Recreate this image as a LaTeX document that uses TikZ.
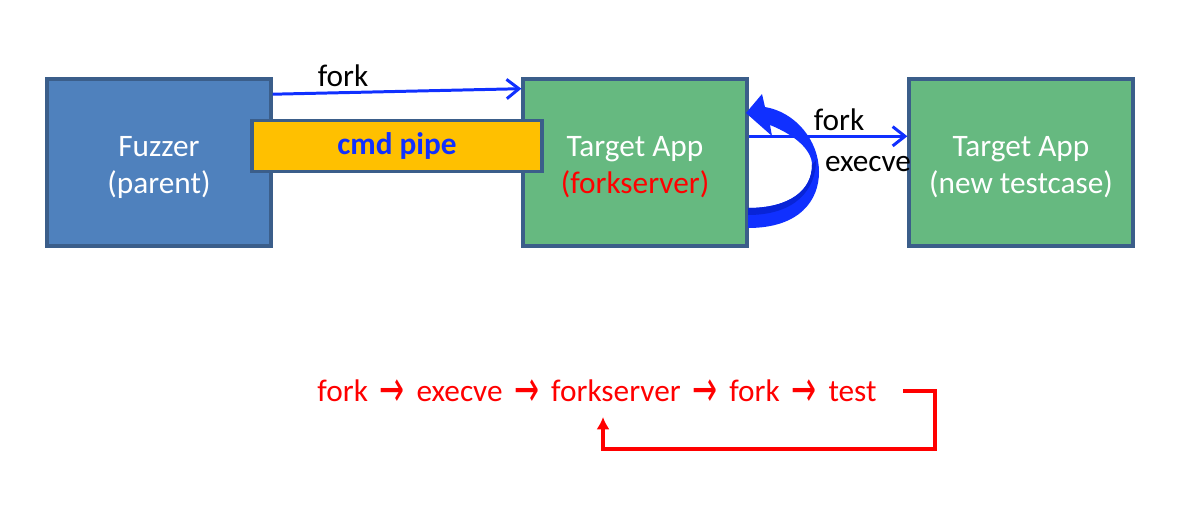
\documentclass[tikz,border=0pt]{standalone}
\usepackage{fontspec}
\usepackage{graphicx}
\setmainfont{Carlito}
\newfontfamily\arrowfont{DejaVu Sans}
\usetikzlibrary{arrows.meta}
\definecolor{fuzzblue}{RGB}{79,129,189}
\definecolor{appgreen}{RGB}{102,185,128}
\definecolor{rim}{RGB}{59,94,138}
\definecolor{pipeyellow}{RGB}{255,192,0}
\definecolor{linkblue}{RGB}{16,48,255}
\definecolor{linkdark}{RGB}{8,36,215}
\definecolor{flowred}{RGB}{255,0,0}
\newcommand{\flowto}{\hspace{2.7pt}\raisebox{-3.3pt}{\scalebox{1}[1.7]{\arrowfont\fontsize{17}{21}\selectfont →}}\hspace{2.7pt}}
\newcommand{\toprow}{\rule{0pt}{17.2pt}}

\begin{document}
\begin{tikzpicture}[x=0.02cm,y=-0.02cm]
\tikzset{proc/.style = {shape=rectangle,draw=rim,line width=1.9pt,minimum width=4.48cm,minimum height=3.34cm,text=white,align=center,font=\fontsize{17.8}{21}\selectfont}}
\tikzset{pipe/.style = {shape=rectangle,draw=rim,fill=pipeyellow,line width=1.9pt,minimum width=5.8cm,minimum height=1.02cm,text=linkblue,font=\fontsize{17.8}{21}\selectfont\bfseries}}
\tikzset{lbl/.style = {font=\fontsize{17.8}{21}\selectfont,inner sep=0pt}}
\tikzset{edge/.style = {-{Straight Barb[length=7pt,width=11pt]},draw=linkblue,line width=1.7pt}}
\tikzset{loopedge/.style = {-{Latex[length=7pt,width=7.5pt]},draw=flowred,line width=2.2pt}}
\useasboundingbox (0,0) rectangle (1200,528);
% vertices
\node[proc,fill=fuzzblue] (fuzzer) at (159,162.5) {\toprow Fuzzer\\(parent)};
\node[proc,fill=appgreen] (server) at (635,162.5) {\toprow Target App\\\textcolor{flowred}{(forkserver)}};
\node[proc,fill=appgreen] (child) at (1021,162.5) {\toprow Target App\\(new testcase)};
\node[pipe] (pipe) at (397,146) {cmd pipe};
\node[lbl] (forka) at (343,76) {fork};
\node[lbl] (forkb) at (839,120) {fork};
\node[lbl] (exec) at (868,164) {execve};
% curved arrow back into the forkserver
\fill[linkblue] (748,228) .. controls (800,228) and (819,200) .. (819,172)
  .. controls (819,140) and (795,112) .. (765,107) -- (762,94) -- (746,113) -- (772,136) -- (770,125)
  .. controls (795,135) and (812,150) .. (812,165)
  .. controls (812,190) and (790,208) .. (748,208) -- cycle;
\fill[linkdark] (812,165) .. controls (812,190) and (790,208) .. (748,208) -- (748,215)
  .. controls (795,215) and (816,190) .. (816,160) -- cycle;
%edges
\draw[edge] (fuzzer.31) -- (server.147);
\draw[edge] (server.13) -- (child.167);
% loop of the forkserver
\node[lbl,text=flowred,anchor=base] (flow) at (597,401) {fork \flowto{} execve \flowto{} forkserver \flowto{} fork \flowto{} test};
\coordinate (loopout) at (903,391);
\coordinate (loopin) at (603,417);
\draw[loopedge] (loopout) -- ++(32,0) -- ++(0,58) -| (loopin);
\end{tikzpicture}
\end{document}
